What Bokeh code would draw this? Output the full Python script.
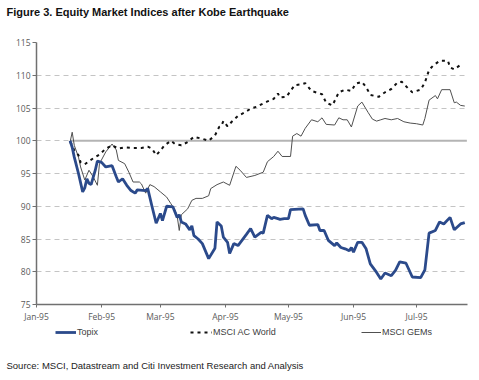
import pandas as pd
from bokeh.plotting import figure
from bokeh.layouts import column
from bokeh.models import (Range1d, FixedTicker, DatetimeTickFormatter, Legend,
                          LegendItem, Label)
from bokeh.embed import file_html
from bokeh.resources import INLINE

# ---------------- data ----------------
START = "1995-01-01"           # day offsets below count from this date
X_END_DAY = 205.3

month_ticks = ["1995-01-01", "1995-02-01", "1995-03-01", "1995-04-01",
               "1995-05-01", "1995-06-01", "1995-07-01"]
y_ticks = [75, 80, 85, 90, 95, 100, 105, 110, 115]

topix_day = [16, 17, 18, 20, 22, 23, 24, 25, 26, 28, 29, 31, 33, 36, 38, 39, 41, 43,
             45, 47, 48, 52, 53, 55, 57, 59, 60, 62, 65, 67, 68, 69, 71, 73, 74, 75,
             77, 79, 82, 85, 86, 88, 89, 91, 92, 94, 96, 100, 102, 104, 107, 108, 110,
             112, 113, 115, 116, 118, 120, 121, 127, 128, 130, 134, 135, 137, 139,
             142, 143, 145, 147, 149, 150, 151, 153, 155, 157, 159, 162, 164, 166,
             169, 171, 173, 176, 179, 183, 185, 187, 190, 192, 194, 197, 199, 202, 204]
topix_val = [100.0, 99.0, 97.5, 95.0, 92.2, 92.8, 94.2, 93.5, 93.3, 95.5, 96.9, 96.7,
             96.0, 96.2, 94.5, 93.7, 94.2, 93.2, 92.4, 92.0, 92.5, 92.4, 92.7, 90.0,
             87.4, 88.9, 87.8, 90.0, 89.9, 88.3, 88.7, 87.6, 87.3, 86.4, 87.0, 85.5,
             85.0, 84.3, 82.0, 83.6, 87.6, 87.0, 85.3, 84.5, 82.8, 84.3, 84.0, 85.7,
             86.6, 85.3, 86.0, 85.9, 88.6, 88.1, 88.3, 88.1, 88.0, 88.1, 88.1, 89.5,
             89.6, 88.6, 87.1, 87.2, 86.3, 86.3, 84.8, 84.0, 84.4, 83.7, 83.5, 83.2,
             83.7, 83.0, 84.5, 84.5, 83.5, 81.2, 79.9, 78.9, 79.8, 79.4, 80.2, 81.5,
             81.3, 79.2, 79.1, 80.3, 85.9, 86.3, 87.6, 87.3, 88.3, 86.4, 87.3, 87.5]

acw_day = [16, 17, 18, 20, 21, 23, 25, 27, 30, 33, 36, 39, 42, 46, 50, 53, 55, 57, 59,
           61, 64, 66, 69, 72, 75, 79, 82, 85, 87, 88, 89, 91, 93, 96, 99, 102, 105,
           108, 110, 113, 115, 116, 119, 121, 123, 126, 128, 131, 134, 136, 138, 141,
           144, 147, 150, 152, 155, 157, 159, 163, 166, 169, 172, 174, 177, 179, 183,
           185, 187, 189, 192, 196, 197, 199, 202]
acw_val = [99.8, 99.3, 98.5, 97.8, 96.7, 96.4, 96.9, 97.3, 97.9, 98.8, 99.3, 98.8,
           99.0, 98.9, 98.9, 99.1, 98.8, 97.8, 98.5, 99.3, 100.0, 99.5, 99.3, 99.8,
           100.6, 100.3, 100.0, 100.8, 102.1, 102.2, 103.0, 102.2, 102.9, 103.8,
           104.3, 104.9, 105.2, 105.7, 106.0, 106.4, 107.2, 106.6, 106.7, 107.6,
           108.5, 108.6, 108.8, 107.6, 107.3, 107.1, 105.8, 105.4, 107.4, 107.8,
           107.6, 108.7, 109.0, 108.2, 107.0, 106.7, 107.4, 107.9, 108.9, 109.0,
           108.0, 107.4, 107.8, 108.9, 110.8, 111.5, 112.2, 112.2, 111.2, 110.9, 111.6]

gem_day = [16, 17, 18, 20, 21, 23, 25, 27, 29, 30, 33, 36, 38, 39, 42, 44, 46, 49, 50,
           52, 54, 56, 59, 62, 64, 66, 67, 68, 69, 72, 74, 76, 79, 82, 83, 86, 89, 92,
           95, 97, 100, 104, 108, 110, 113, 115, 117, 121, 122, 124, 126, 128, 131,
           134, 136, 138, 142, 144, 146, 148, 150, 153, 155, 158, 160, 162, 164, 166,
           169, 172, 175, 178, 181, 184, 185, 187, 190, 191, 193, 197, 199, 200, 202, 204]
gem_val = [99.8, 101.3, 99.3, 97.5, 96.0, 94.0, 95.5, 94.5, 93.2, 96.5, 98.3, 99.5,
           98.6, 97.0, 96.5, 95.2, 93.7, 93.7, 93.4, 92.0, 93.3, 93.0, 92.2, 91.4,
           90.4, 89.4, 88.5, 86.3, 88.7, 89.6, 90.9, 91.2, 91.2, 91.6, 92.7, 93.3,
           93.7, 93.2, 96.1, 95.5, 94.4, 94.7, 95.2, 96.8, 97.6, 98.4, 97.6, 97.6,
           100.7, 101.1, 100.7, 101.9, 103.2, 102.9, 103.5, 102.5, 102.4, 103.5,
           103.2, 103.2, 102.1, 105.3, 105.9, 104.3, 103.3, 103.0, 103.2, 103.4,
           103.2, 103.4, 102.9, 102.7, 102.6, 102.4, 103.4, 106.2, 106.9, 106.4,
           107.8, 107.8, 105.8, 105.9, 105.4, 105.3]

base_day = [16, 205]
base_val = [100, 100]

series_names = ["Topix", "MSCI AC World", "MSCI GEMs"]

# ---------------- styles ----------------
TITLE = "Figure 3. Equity Market Indices after Kobe Earthquake"
SOURCE = "Source: MSCI, Datastream and Citi Investment Research and Analysis"
SANS = "Liberation Sans"

STY_TOP = dict(line_color="#2B4A8B", line_width=2.8)
STY_ACW = dict(line_color="#111111", line_width=2, line_dash="3 4")
STY_GEM = dict(line_color="#505050", line_width=1)

t0 = pd.Timestamp(START)


def to_dates(days):
    return [t0 + pd.Timedelta(days=d) for d in days]


W = 471
H_HEAD, H_MAIN, H_FOOT = 36, 288, 48
NAN = float("nan")


def blank_fig(h):
    f = figure(width=W, height=h, output_backend="svg", toolbar_location=None,
               x_range=Range1d(0, 1), y_range=Range1d(0, 1),
               x_axis_location=None, y_axis_location=None, min_border=0,
               frame_align=False)
    f.xgrid.visible = False
    f.ygrid.visible = False
    f.outline_line_color = None
    f.background_fill_color = "white"
    f.border_fill_color = "white"
    return f


# ---------------- header ----------------
head = blank_fig(H_HEAD)
head.add_layout(Label(x=6, y=H_HEAD - 11, x_units="screen", y_units="screen",
                      text=TITLE, text_font=SANS, text_font_style="bold",
                      text_font_size="11px", text_color="#111111",
                      text_baseline="middle"))

# ---------------- main chart ----------------
p = figure(width=W, height=H_MAIN, x_axis_type="datetime", output_backend="svg",
           toolbar_location=None, frame_align=False,
           x_range=Range1d(t0, t0 + pd.Timedelta(days=X_END_DAY)),
           y_range=Range1d(75, 115),
           min_border_left=36, min_border_right=4,
           min_border_top=6, min_border_bottom=20)
p.outline_line_color = None
p.background_fill_color = "white"
p.border_fill_color = "white"

p.xgrid.visible = False
p.ygrid.grid_line_color = "#c4c4c4"
p.ygrid.grid_line_dash = "5 4"
p.ygrid.grid_line_width = 1

for ax in (p.xaxis[0], p.yaxis[0]):
    ax.axis_line_color = "#707070"
    ax.axis_line_width = 1.5
    ax.major_tick_line_color = "#707070"
    ax.major_tick_line_width = 1
    ax.minor_tick_line_color = None
    ax.major_tick_in = 0
    ax.major_label_text_font = "Open Sans"
    ax.major_label_text_font_size = "8.5px"
    ax.major_label_text_color = "#5a5a5a"

p.yaxis.ticker = FixedTicker(ticks=y_ticks)
p.yaxis.major_tick_out = 4
p.yaxis.major_label_standoff = 2

month_ms = [pd.Timestamp(m).value / 1e6 for m in month_ticks]
p.xaxis.ticker = FixedTicker(ticks=month_ms)
fmt = "%b-%y"
p.xaxis.formatter = DatetimeTickFormatter(
    milliseconds=fmt, seconds=fmt, minsec=fmt, minutes=fmt, hourmin=fmt,
    hours=fmt, days=fmt, months=fmt, years=fmt)
p.xaxis.major_tick_out = 3
p.xaxis.major_label_standoff = 3

p.line(to_dates(base_day), base_val, line_color="#b4b4b4", line_width=2)
p.line(to_dates(gem_day), gem_val, **STY_GEM)
p.line(to_dates(acw_day), acw_val, **STY_ACW)
p.line(to_dates(topix_day), topix_val, **STY_TOP)

# ---------------- footer: legend + source ----------------
foot = blank_fig(H_FOOT)
for name, sty, xpos, gw in ((series_names[0], STY_TOP, 55, 21),
                            (series_names[1], STY_ACW, 190, 22),
                            (series_names[2], STY_GEM, 361, 20)):
    # legend-only renderer (no visible data in the footer)
    r = foot.line([NAN], [NAN], **sty)
    foot.add_layout(Legend(items=[LegendItem(label=name, renderers=[r])],
                           location=(xpos, H_FOOT - 13), orientation="horizontal",
                           glyph_width=gw, glyph_height=10, label_standoff=1,
                           padding=0, margin=0, border_line_color=None,
                           background_fill_alpha=0, label_text_font=SANS,
                           label_text_font_size="9px", label_text_color="#404040",
                           label_height=10))
foot.add_layout(Label(x=6, y=7, x_units="screen", y_units="screen",
                      text=SOURCE, text_font=SANS, text_font_size="9.5px",
                      text_color="#222222", text_baseline="middle"))

layout = column(head, p, foot, spacing=0)
open("out.html", "w").write(file_html(layout, INLINE))
